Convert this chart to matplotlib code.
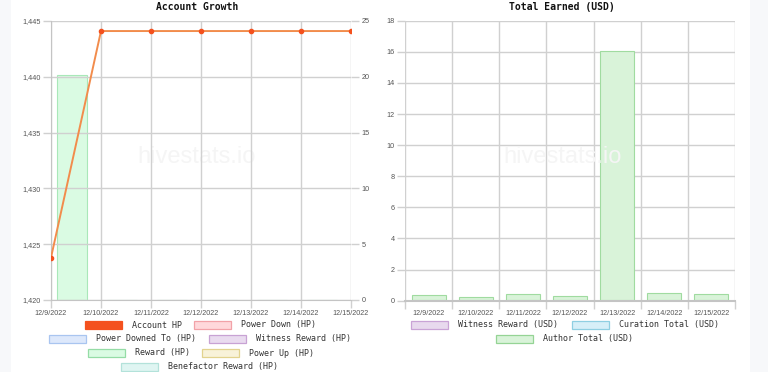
import matplotlib
matplotlib.use("Agg")
import matplotlib.pyplot as plt
from matplotlib.patches import Rectangle

# ---------------- data ----------------
dates = ["12/9/2022", "12/10/2022", "12/11/2022", "12/12/2022",
         "12/13/2022", "12/14/2022", "12/15/2022"]
account_hp = [1423.8, 1444.1, 1444.1, 1444.1, 1444.1, 1444.1, 1444.1]
reward_hp = [20.2, 0, 0, 0, 0, 0, 0]
witness_usd = [0, 0, 0, 0, 0, 0, 0]
curation_usd = [0.04, 0.03, 0.04, 0.04, 0.04, 0.04, 0.04]
author_usd = [0.31, 0.19, 0.37, 0.26, 16.01, 0.43, 0.37]

left_ticks = [1420, 1425, 1430, 1435, 1440, 1445]
right_ticks = [0, 5, 10, 15, 20, 25]
usd_ticks = [0, 2, 4, 6, 8, 10, 12, 14, 16, 18]

W, H = 768, 372
fig = plt.figure(figsize=(W / 100, H / 100), dpi=100)
fig.patch.set_facecolor("white")

def fx(x):
    return x / W

def fy(y):
    return 1 - y / H

# page side strips
fig.add_artist(Rectangle((0, 0), fx(11), 1, transform=fig.transFigure,
                         facecolor="#f7f8fa", edgecolor="none", zorder=0))
fig.add_artist(Rectangle((fx(750), 0), fx(18), 1, transform=fig.transFigure,
                         facecolor="#f7f8fa", edgecolor="none", zorder=0))

GRID = "#d0d0d0"
TICKC = "#555555"
TFONT = "Liberation Sans"
TS = 5.2

# ---------------- left chart ----------------
axL = fig.add_axes([fx(51), fy(300), fx(300), (300 - 21) / H])
axR = axL.twinx()
xs = list(range(len(dates)))

axR.bar([x + 0.42 for x in xs], reward_hp, width=0.6,
        facecolor="#dafbe3", edgecolor="#a9e8b9", linewidth=0.8, zorder=2)
axR.set_ylim(0, 25)
axR.set_yticks(right_ticks)

axL.set_zorder(axR.get_zorder() + 1)
axL.patch.set_visible(False)
axL.plot(xs, account_hp, color="#f28c4c", linewidth=1.4, zorder=3)
axL.plot(xs, account_hp, linestyle="none", marker="o", markersize=3,
         color="#f4511e", zorder=4)
axL.set_xlim(0, 6)
axL.set_ylim(1420, 1445)
axL.set_yticks(left_ticks)
axL.set_yticklabels([f"{v:,}" for v in left_ticks])
axL.set_xticks(xs)
axL.set_xticklabels(dates)
axL.grid(True, color=GRID, linewidth=1)
axL.set_axisbelow(True)

for a in (axL, axR):
    for s in a.spines.values():
        s.set_visible(False)
    a.tick_params(colors=GRID, labelcolor=TICKC, length=6, width=1,
                  labelsize=TS, pad=1.5)
    for lab in a.get_yticklabels() + a.get_xticklabels():
        lab.set_family(TFONT)
axL.spines["bottom"].set_visible(True)
axL.spines["bottom"].set_color("#c4c4c4")
axL.spines["left"].set_visible(True)
axL.spines["left"].set_color("#c4c4c4")

fig.text(fx(197), fy(7), "Account Growth", ha="center", va="center",
         family="DejaVu Sans Mono", fontweight="bold", fontsize=7, color="#111111")
fig.text(fx(197), fy(157), "hivestats.io", ha="center", va="center",
         family=TFONT, fontsize=17, color="#f5f5f5", zorder=0)

# ---------------- right chart ----------------
ax2 = fig.add_axes([fx(405), fy(300.7), fx(330), (300.7 - 20.7) / H])
bw = 0.72
ax2.bar(xs, witness_usd, width=bw, facecolor="#e8d9ee", edgecolor="#c9a3d6",
        linewidth=0.8, zorder=2)
ax2.bar(xs, curation_usd, width=bw, bottom=witness_usd, facecolor="#d6eff8",
        edgecolor="#8fcfe2", linewidth=0.8, zorder=2)
bottoms = [w + c for w, c in zip(witness_usd, curation_usd)]
ax2.bar(xs, author_usd, width=bw, bottom=bottoms, facecolor="#d9f3d9",
        edgecolor="#a0dba0", linewidth=0.8, zorder=2)
ax2.set_xlim(-0.5, 6.5)
ax2.set_ylim(0, 18)
ax2.set_yticks(usd_ticks)
ax2.set_xticks(xs)
ax2.set_xticklabels(dates)
ax2.set_xticks([x - 0.5 for x in range(len(dates) + 1)], minor=True)
ax2.grid(True, axis="y", color=GRID, linewidth=1)
ax2.grid(True, axis="x", which="minor", color=GRID, linewidth=1)
ax2.set_axisbelow(True)
for s in ax2.spines.values():
    s.set_visible(False)
ax2.spines["bottom"].set_visible(True)
ax2.spines["bottom"].set_color("#c4c4c4")
ax2.spines["bottom"].set_linewidth(1.5)
ax2.tick_params(axis="y", colors=GRID, labelcolor=TICKC, length=6, width=1,
                labelsize=TS, pad=1.5)
ax2.tick_params(axis="x", which="major", length=0, labelcolor=TICKC,
                labelsize=TS, pad=7)
ax2.tick_params(axis="x", which="minor", length=6, width=1, colors=GRID)
for lab in ax2.get_yticklabels() + ax2.get_xticklabels():
    lab.set_family(TFONT)

fig.text(fx(562), fy(7), "Total Earned (USD)", ha="center", va="center",
         family="DejaVu Sans Mono", fontweight="bold", fontsize=7, color="#111111")
fig.text(fx(563), fy(157), "hivestats.io", ha="center", va="center",
         family=TFONT, fontsize=17, color="#f5f5f5", zorder=0)

# ---------------- legends ----------------
legend_items = [
    # (box_left_px, y_center_px, label, face, edge)
    (85, 325, "Account HP", "#f4511e", "#f4511e"),
    (194, 325, "Power Down (HP)", "#ffd8db", "#f2a2a8"),
    (49, 339, "Power Downed To (HP)", "#dde8fb", "#a9c5f0"),
    (209, 339, "Witness Reward (HP)", "#e9dbef", "#c8a2d4"),
    (88, 353, "Reward (HP)", "#dafbe3", "#95dca6"),
    (202, 353, "Power Up (HP)", "#f8f2d9", "#e2d38f"),
    (121, 367, "Benefactor Reward (HP)", "#dff5f2", "#b3e2da"),
    (411, 325, "Witness Reward (USD)", "#e8d9ee", "#c9a3d6"),
    (572, 325, "Curation Total (USD)", "#d6eff8", "#8fcfe2"),
    (496, 339, "Author Total (USD)", "#d9f3d9", "#95d495"),
]
for bx, cy, label, fc, ec in legend_items:
    fig.add_artist(Rectangle((fx(bx), fy(cy + 4)), fx(37), 8 / H,
                             transform=fig.transFigure, facecolor=fc,
                             edgecolor=ec, linewidth=0.9))
    fig.text(fx(bx + 47), fy(cy), label, ha="left", va="center",
             family="DejaVu Sans Mono", fontsize=6, color="#333333")

fig.savefig("out.png", dpi=100, facecolor="white")
